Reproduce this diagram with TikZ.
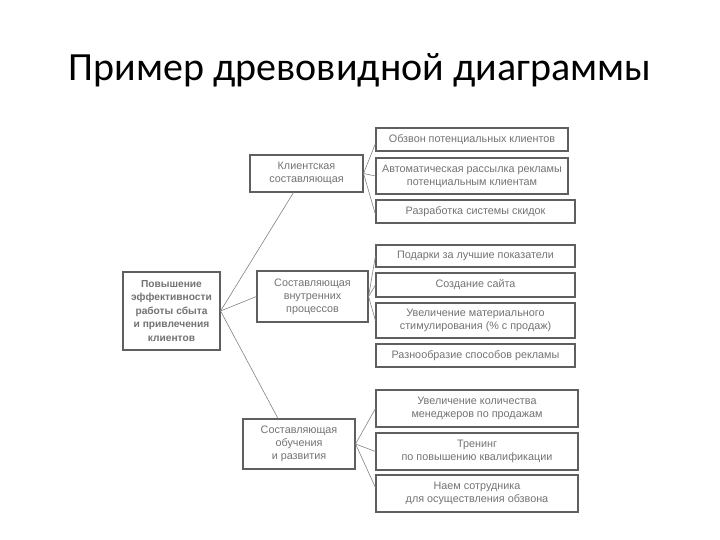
\documentclass[tikz,border=0pt]{standalone}
\usepackage{fontspec}
\setmainfont{Liberation Sans}
\newfontfamily\titlefont{Carlito}
\usetikzlibrary{positioning}

\definecolor{inkgray}{RGB}{95,95,95}
\definecolor{txtgray}{RGB}{115,115,115}
\definecolor{wiregray}{RGB}{130,130,130}

\begin{document}
\begin{tikzpicture}[
    x=1pt, y=-1pt,
    block/.style={draw=inkgray, rectangle, line width=1.1pt, align=center, inner sep=1pt,
        font=\fontsize{10.8}{13}\selectfont, text=txtgray, fill=white},
    rootStyle/.style={block, font=\fontsize{10.2}{13.5}\selectfont\bfseries},
    leaf/.style={block},
    wire/.style={draw=wiregray, line width=0.6pt}
]
\useasboundingbox (0,0) rectangle (720,540);

% ----------------------------------------------------
% Title
% ----------------------------------------------------
\node[font=\titlefont\fontsize{40}{44}\selectfont] (Title) at (360,70) {Пример древовидной диаграммы};

% ----------------------------------------------------
% Root and the three components
% ----------------------------------------------------
\node[rootStyle, minimum width=97pt, minimum height=78pt] (Root) at (171.5,311)
    {Повышение\\эффективности\\работы сбыта\\и привлечения\\клиентов};

\node[block, minimum width=113pt, minimum height=37pt] (Client) at (306.5,173.5)
    {Клиентская\\составляющая};
\node[block, minimum width=111pt, minimum height=51pt] (Process) at (312.5,296.5)
    {Составляющая\\внутренних\\процессов};
\node[block, minimum width=112pt, minimum height=50pt] (Learn) at (299,444)
    {Составляющая\\обучения\\и развития};

\draw[wire] (Root.east) -- ([xshift=-13pt]Client.south);
\draw[wire] (Root.east) -- (Process.west);
\draw[wire] (Root.east) -- ([xshift=-21pt]Learn.north);

% ----------------------------------------------------
% Client leaves
% ----------------------------------------------------
\node[leaf, minimum width=192pt, minimum height=23pt] (C1) at (472,139.5)
    {Обзвон потенциальных клиентов};
\node[leaf, minimum width=192pt, minimum height=36pt] (C2) at (472,176)
    {Автоматическая рассылка рекламы\\потенциальным клиентам};
\node[leaf, minimum width=199pt, minimum height=23pt] (C3) at (475.5,211.5)
    {Разработка системы скидок};

\draw[wire] (Client.east) -- ([yshift=-4pt]C1.west);
\draw[wire] (Client.east) -- (C2.west);
\draw[wire] (Client.east) -- ([yshift=-3pt]C3.west);

% ----------------------------------------------------
% Process leaves
% ----------------------------------------------------
\node[leaf, minimum width=199pt, minimum height=22pt] (P1) at (475.5,256)
    {Подарки за лучшие показатели};
\node[leaf, minimum width=199pt, minimum height=24pt] (P2) at (475.5,285)
    {Создание сайта};
\node[leaf, minimum width=199pt, minimum height=35pt] (P3) at (475.5,320.5)
    {Увеличение материального\\стимулирования (\% с продаж)};
\node[leaf, minimum width=199pt, minimum height=23pt] (P4) at (475.5,355.5)
    {Разнообразие способов рекламы};

\draw[wire] (Process.east) -- (P1.west);
\draw[wire] (Process.east) -- (P2.west);
\draw[wire] (Process.east) -- (P3.west);

% ----------------------------------------------------
% Learning leaves
% ----------------------------------------------------
\node[leaf, minimum width=202pt, minimum height=37pt] (L1) at (477,408.5)
    {Увеличение количества\\менеджеров по продажам};
\node[leaf, minimum width=202pt, minimum height=37pt] (L2) at (477,451.5)
    {Тренинг\\по повышению квалификации};
\node[leaf, minimum width=202pt, minimum height=37pt] (L3) at (477,493.5)
    {Наем сотрудника\\для осуществления обзвона};

\draw[wire] (Learn.east) -- (L1.west);
\draw[wire] (Learn.east) -- (L2.west);
\draw[wire] (Learn.east) -- ([yshift=6pt]L3.west);

\end{tikzpicture}
\end{document}
